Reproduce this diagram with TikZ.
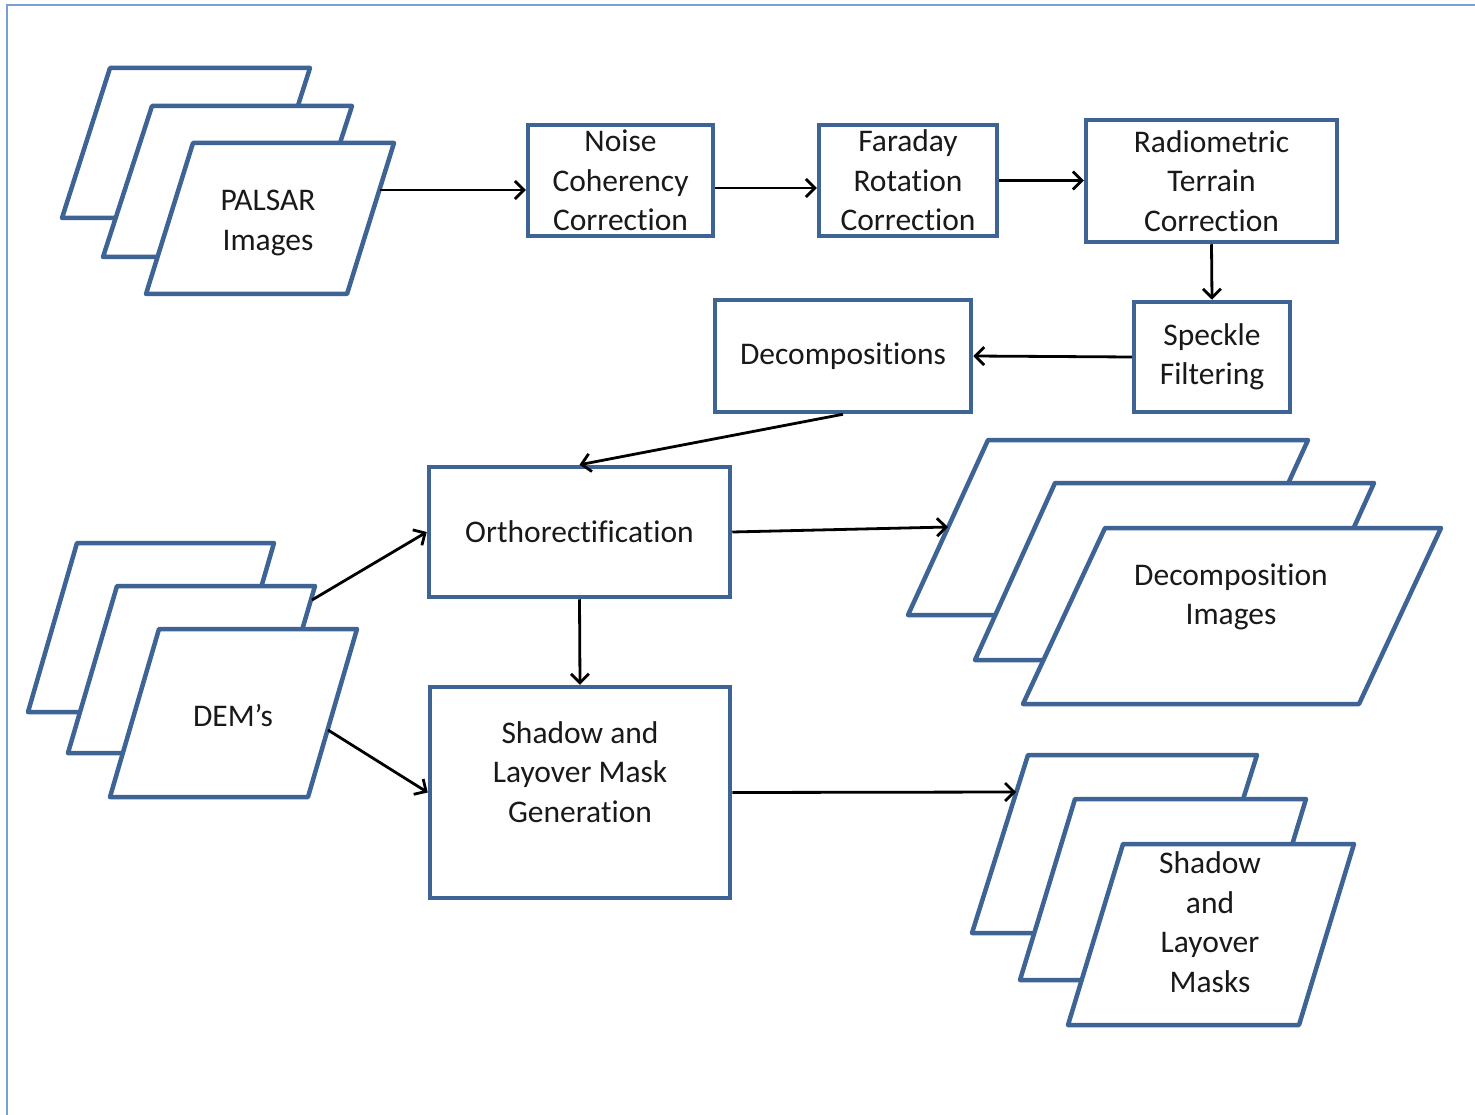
\documentclass[tikz,border=0pt]{standalone}
\usepackage{fontspec}
\setmainfont{Carlito}[RawFeature={-liga,-clig,-calt,-dlig}]
\usetikzlibrary{arrows.meta,calc}
\definecolor{shapeblue}{RGB}{62,100,150}
\definecolor{framecol}{RGB}{120,160,212}
\definecolor{txtcol}{RGB}{25,25,25}
\newcommand\txtfont{\fontsize{31.5}{39.5}\selectfont}
\newcommand\tii{t\kern0pt i}
\newcommand\pgram[5]{%
  \filldraw[pgstyle] (#1,#2) -- ++(#3,0) -- ++(-#5,#4) -- ++(-#3,0) -- cycle;}
\begin{document}
\begin{tikzpicture}[x=1pt,y=-1pt,
  pgstyle/.style={draw=shapeblue, fill=white, line width=4.5pt, line join=round},
  box/.style={draw=shapeblue, fill=white, line width=4.5pt, inner sep=0pt,
              align=center, font=\txtfont, text=txtcol},
  lbl/.style={align=center, font=\txtfont, text=txtcol, inner sep=0pt},
  arr/.style={draw=black, line width=2.8pt,
              -{Straight Barb[length=9pt,width=18pt]}}]
\useasboundingbox (0,0) rectangle (1475,1115);
\fill[white] (0,0) rectangle (1475,1115);
% frame
\draw[framecol, line width=2pt] (7,1115) -- (7,5) -- (1475,5);

% PALSAR stack
\pgram{110}{68}{200}{150}{48}
\pgram{152}{106}{200}{151}{49}
\pgram{193}{143}{201}{151}{47}
\node[lbl] (palsar) at (268,223) {PALSAR\\Images};
\coordinate (palsarOut) at (380,190);

% DEM stack
\pgram{77}{543}{197}{169}{49}
\pgram{117}{586}{198}{167}{49}
\pgram{159}{629}{198}{168}{49}
\node[lbl] (dem) at (233,716) {DEM’s};
\coordinate (demA) at (312,600);
\coordinate (demB) at (328,730);

% Decomposition images stack
\pgram{988}{440}{320}{175}{80}
\pgram{1055}{483}{319}{177}{80}
\pgram{1105}{528}{336}{176}{82}
\node[lbl] (decimg) at (1231,597) {Decomposi\tii on\\Images};
\coordinate (decIn) at (948,527);

% Masks stack
\pgram{1028}{755}{229}{178}{56}
\pgram{1075}{799}{231}{181}{55}
\pgram{1123}{844}{231}{181}{55}
\node[lbl] (masks) at (1210,922) {Shadow\\and\\Layover\\Masks};
\coordinate (maskIn) at (1016,792);

% process boxes
\node[box, minimum width=185pt, minimum height=111pt] (noise) at (620.5,180.5) {Noise\\Coherency\\Correc\tii on};
\node[box, minimum width=178pt, minimum height=111pt] (faraday) at (908,180.5) {Faraday\\Rota\tii on\\Correc\tii on};
\node[box, minimum width=251pt, minimum height=122pt] (radio) at (1211.5,181) {Radiometric\\Terrain\\Correc\tii on};
\node[box, minimum width=156pt, minimum height=110pt] (speckle) at (1212,357) {Speckle\\F\kern0pt iltering};
\node[box, minimum width=256pt, minimum height=112pt] (decomp) at (843,356) {Decomposi\tii ons};
\node[box, minimum width=301pt, minimum height=130pt] (ortho) at (579.5,532) {Orthorec\tii f\kern0pt ica\tii on};
\node[box, minimum width=300pt, minimum height=211pt] (shadow) at (580,792.5) {};
\node[lbl] (shadowtxt) at (580,772) {Shadow and\\Layover Mask\\Genera\tii on};

% connectors
\draw[arr] (palsarOut) -- (palsarOut -| noise.west);
\draw[arr] ([yshift=-7.5pt]noise.east) -- ([yshift=-7.5pt]faraday.west);
\draw[arr] (faraday.east) -- (faraday.east -| radio.west);
\draw[arr] (radio.south) -- (speckle.north);
\draw[arr] (speckle.west) -- (decomp.east);
\draw[arr] (decomp.south) -- (ortho.north);
\draw[arr] (demA) -- (ortho.west);
\draw[arr] (demB) -- (shadow.west);
\draw[arr] (ortho.east) -- (decIn);
\draw[arr] (ortho.south) -- (shadow.north);
\draw[arr] (shadow.east) -- (maskIn);
\end{tikzpicture}
\end{document}
